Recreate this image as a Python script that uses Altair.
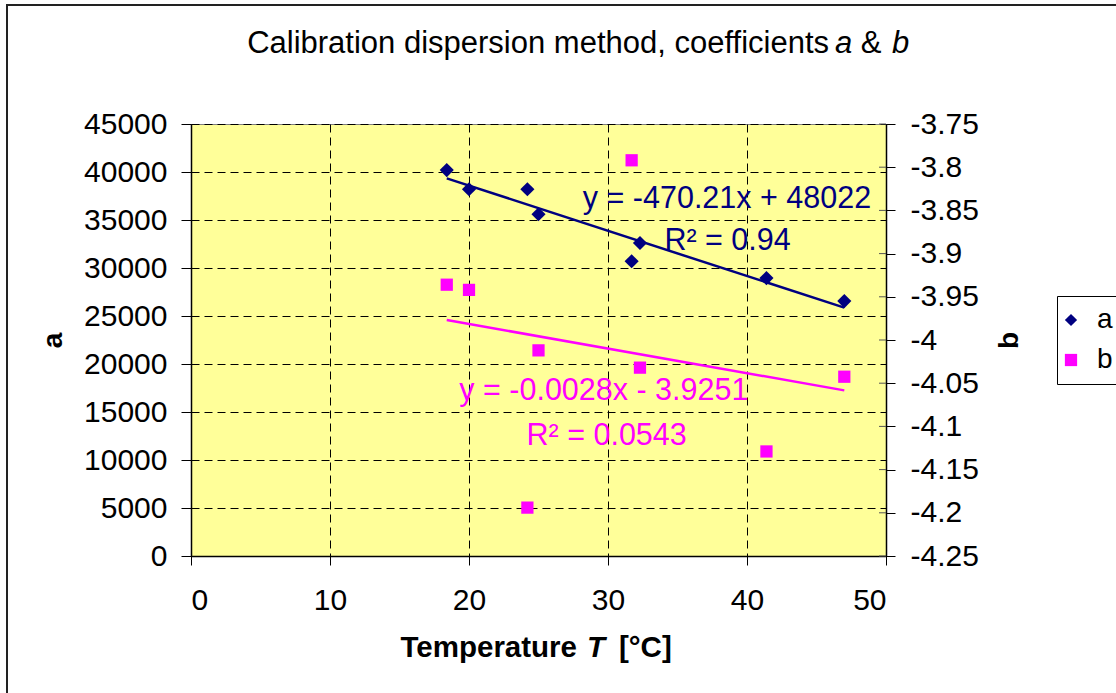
import altair as alt
import pandas as pd

# ---- data ----
temperature = [18.4, 20.0, 24.2, 25.0, 31.7, 32.3, 41.4, 47.0]
coef_a = [40200, 38200, 38200, 35600, 30700, 32600, 28950, 26550]
coef_b = [-3.936, -3.942, -4.194, -4.012, -3.792, -4.032, -4.129, -4.0425]

eq_a = ["y = -470.21x + 48022", "R\u00b2 = 0.94"]
eq_b = ["y = -0.0028x - 3.9251", "R\u00b2 = 0.0543"]
title_parts = ["Calibration dispersion method, coefficients ", "a", "&", "b"]
xtitle_parts = ["Temperature", "T", "[\u00b0C]"]
series_names = ["a", "b"]
x_ticks = [0, 10, 20, 30, 40, 50]
a_ticks = [0, 5000, 10000, 15000, 20000, 25000, 30000, 35000, 40000, 45000]
b_ticks = [-4.25, -4.2, -4.15, -4.1, -4.05, -4.0, -3.95, -3.9, -3.85, -3.8, -3.75]

FONT = "Liberation Sans"
NAVY = "#000080"
MAGENTA = "#FF00FF"
L, T = 191, 124          # plot-area origin in the page
W, H = 695, 432
TICK_FS = 30
EQ_FS = 30.5

dfA = pd.DataFrame({"T": temperature, "a": coef_a, "series": series_names[0]})
dfB = pd.DataFrame({"T": temperature, "b": coef_b, "series": series_names[1]})
dfBt = pd.DataFrame({"b": b_ticks})

x_scale = alt.Scale(domain=[0, 50], nice=False, zero=False)
x_axis = alt.Axis(values=x_ticks, format="d", title=None, grid=True, gridDash=[8, 5],
                  gridColor="black", gridWidth=1, domainColor="black", domainWidth=1.5,
                  tickColor="black", tickSize=9, labelFont=FONT, labelFontSize=TICK_FS,
                  labelColor="black", labelPadding=20)

ya_scale = alt.Scale(domain=[0, 45000], nice=False)
ya_axis = alt.Axis(orient="left", values=a_ticks, format="d", title="a", grid=True,
                   gridDash=[8, 5], gridColor="black", gridWidth=1, domainColor="black",
                   domainWidth=1.5, tickColor="black", tickSize=10, labelFont=FONT,
                   labelFontSize=TICK_FS, labelColor="black", labelPadding=14,
                   titleFont=FONT, titleFontSize=28, titleFontWeight="bold",
                   titleColor="black", titlePadding=16)

yb_scale = alt.Scale(domain=[-4.25, -3.75], nice=False, zero=False)
yb_axis = alt.Axis(orient="right", values=b_ticks,
                   labelExpr="'' + round(datum.value * 100) / 100",
                   title="b", titleAngle=270, grid=False, domainColor="black",
                   domainWidth=1.5, tickColor="black", tickSize=9, labelFont=FONT,
                   labelFontSize=TICK_FS, labelColor="black", labelPadding=15,
                   titleFont=FONT, titleFontSize=28, titleFontWeight="bold",
                   titleColor="black", titlePadding=45)

color_scale = alt.Scale(domain=series_names, range=[NAVY, MAGENTA])
shape_scale = alt.Scale(domain=series_names, range=["diamond", "square"])
legend = alt.Legend(title=None, orient="none", legendX=1057 - L, legendY=296 - T,
                    strokeColor="black", fillColor="white", padding=10,
                    labelFont=FONT, labelFontSize=28, labelColor="black",
                    symbolSize=150, symbolStrokeWidth=0, symbolOffset=-10,
                    labelOffset=12, rowPadding=12)

X = alt.X("T:Q", scale=x_scale, axis=x_axis)

# ---- coefficient a (left axis) ----
pts_a = alt.Chart(dfA).mark_point(filled=True, size=200, opacity=1).encode(
    x=X,
    y=alt.Y("a:Q", scale=ya_scale, axis=ya_axis),
    color=alt.Color("series:N", scale=color_scale, legend=legend),
    shape=alt.Shape("series:N", scale=shape_scale, legend=legend),
)
fit_a = alt.Chart(dfA).transform_regression("T", "a").mark_line(
    color=NAVY, strokeWidth=2.5).encode(
    x=X, y=alt.Y("a:Q", scale=ya_scale, axis=ya_axis))


def label(text, xv, yv, scale, axis, color):
    return alt.Chart(pd.DataFrame({"s": [text]})).mark_text(
        font=FONT, fontSize=EQ_FS, color=color, align="center", baseline="alphabetic"
    ).encode(
        x=alt.XDatum(xv, type="quantitative", scale=x_scale, axis=x_axis),
        y=alt.YDatum(yv, type="quantitative", scale=scale, axis=axis),
        text="s:N",
    )


txt_a1 = label(eq_a[0], 38.56, 36250, ya_scale, ya_axis, NAVY)
txt_a2 = label(eq_a[1], 38.6, 31875, ya_scale, ya_axis, NAVY)


def pix_text(text, px, py, align, size, weight="normal", style="normal"):
    return alt.Chart(pd.DataFrame({"s": [text]})).mark_text(
        font=FONT, fontSize=size, fontWeight=weight, fontStyle=style,
        color="black", align=align, baseline="alphabetic"
    ).encode(x=alt.value(px - L), y=alt.value(py - T), text="s:N")


title_layers = [
    pix_text(title_parts[0], 829, 53, "right", 31),
    pix_text(title_parts[1], 835, 53, "left", 31, style="italic"),
    pix_text(title_parts[2], 871, 53, "center", 31),
    pix_text(title_parts[3], 892, 53, "left", 31, style="italic"),
    pix_text(xtitle_parts[0], 577, 657, "right", 29.5, weight="bold"),
    pix_text(xtitle_parts[1], 587, 657, "left", 29.5, weight="bold", style="italic"),
    pix_text(xtitle_parts[2], 619, 657, "left", 29.5, weight="bold"),
]

border = alt.Chart(pd.DataFrame({"s": [""]})).mark_rect(
    fillOpacity=0, stroke="#222222", strokeWidth=2).encode(
    x=alt.value(7 - L), x2=alt.value(1400), y=alt.value(5 - T), y2=alt.value(900))

layer_a = alt.layer(border, fit_a, pts_a, txt_a1, txt_a2, *title_layers)

# ---- coefficient b (right axis) ----
inner_ticks_b = alt.Chart(dfBt).mark_rule(color="#555555", strokeWidth=1).encode(
    x=alt.value(W - 7), x2=alt.value(W),
    y=alt.Y("b:Q", scale=yb_scale, axis=yb_axis))
pts_b = alt.Chart(dfB).mark_point(filled=True, size=150, opacity=1).encode(
    x=X,
    y=alt.Y("b:Q", scale=yb_scale, axis=yb_axis),
    color=alt.Color("series:N", scale=color_scale, legend=legend),
    shape=alt.Shape("series:N", scale=shape_scale, legend=legend),
)
fit_b = alt.Chart(dfB).transform_regression("T", "b").mark_line(
    color=MAGENTA, strokeWidth=2.5).encode(
    x=X, y=alt.Y("b:Q", scale=yb_scale, axis=yb_axis))
txt_b1 = label(eq_b[0], 29.7, -4.0694, yb_scale, yb_axis, MAGENTA)
txt_b2 = label(eq_b[1], 29.9, -4.1215, yb_scale, yb_axis, MAGENTA)

layer_b = alt.layer(inner_ticks_b, fit_b, pts_b, txt_b1, txt_b2)

chart = alt.layer(layer_a, layer_b).resolve_scale(y="independent").properties(
    width=W, height=H,
    padding={"left": L, "top": T, "right": 1116 - L - W, "bottom": 693 - T - H},
    autosize=alt.AutoSizeParams(type="none"),
    background="white",
).configure_view(fill="#FFFF99", stroke="#808080", strokeWidth=1)

chart.save("out.html", embed_options={"renderer": "svg", "actions": False})
